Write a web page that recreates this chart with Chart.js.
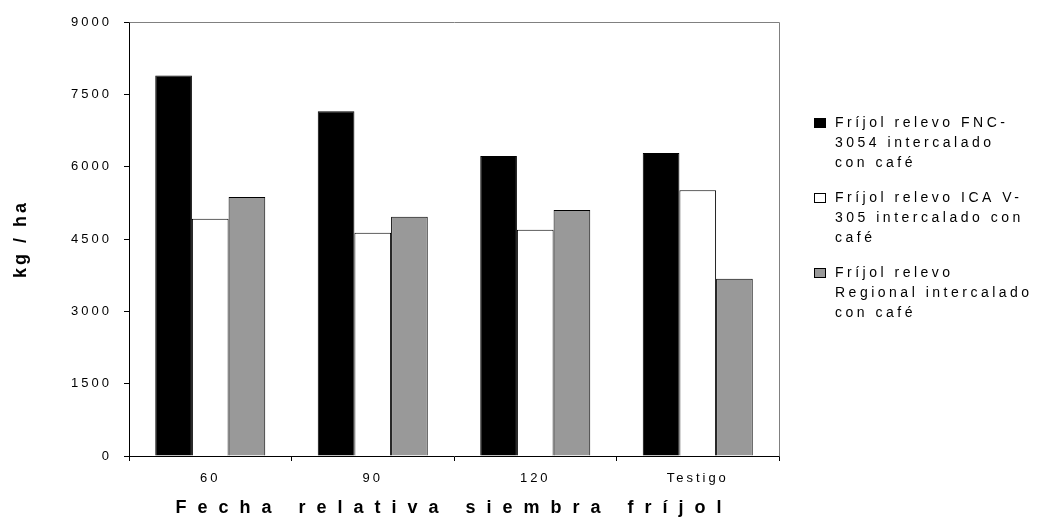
<!DOCTYPE html>
<html><head><meta charset="utf-8">
<script src="https://cdn.jsdelivr.net/npm/chart.js@4"></script>
<style>html,body{margin:0;padding:0;background:#fff;overflow:hidden}#wrap{width:1039px;height:521px}</style>
</head><body><div id="wrap"><canvas id="c" width="1039" height="521"></canvas></div>
<script>
// ---- data ----
const categories = ['60', '90', '120', 'Testigo'];
const seriesFNC = [7890, 7150, 6220, 6285];
const seriesICA = [4920, 4630, 4690, 5510];
const seriesRegional = [5370, 4960, 5100, 3675];
const yTickValues = [0, 1500, 3000, 4500, 6000, 7500, 9000];
const yTickLabels = ['0', '1500', '3000', '4500', '6000', '7500', '9000'];
const legendFNC = ['Fríjol relevo FNC-', '3054 intercalado', 'con café'];
const legendICA = ['Fríjol relevo ICA V-', '305 intercalado con', 'café'];
const legendRegional = ['Fríjol relevo', 'Regional intercalado', 'con café'];
const yTitle = 'kg / ha';
const xTitle = 'Fecha relativa siembra fríjol';

const FONT = '"Liberation Sans", Arial, sans-serif';

const spacingPlugin = {
  id: 'spacing',
  beforeDraw(chart) {
    chart.ctx.letterSpacing = '3px';
    Object.values(chart.scales).forEach(s => {
      if (s._wrapped) return;
      s._wrapped = true;
      const orig = s.drawTitle;
      s.drawTitle = function () {
        const ctx = this.ctx;
        ctx.save();
        ctx.letterSpacing = this.axis === 'x' ? '11px' : '3px';
        orig.call(this);
        ctx.restore();
      };
    });
  }
};

const framePlugin = {
  id: 'frame',
  afterDatasetsDraw(chart) {
    const {ctx, chartArea: a} = chart;
    ctx.save();
    ctx.strokeStyle = '#808080';
    ctx.lineWidth = 1;
    ctx.beginPath();
    ctx.moveTo(Math.round(a.left) + 0.5, Math.round(a.top) + 0.5);
    ctx.lineTo(Math.round(a.right) + 0.5, Math.round(a.top) + 0.5);
    ctx.lineTo(Math.round(a.right) + 0.5, Math.round(a.bottom) + 0.5);
    ctx.stroke();
    ctx.restore();
  }
};

const LEG = {x: 814, textX: 835, top: 123, itemGap: 75, lineGap: 20};
const legendPlugin = {
  id: 'sideLegend',
  afterDraw(chart) {
    const ctx = chart.ctx;
    ctx.save();
    ctx.font = '14px ' + FONT;
    ctx.letterSpacing = '3.5px';
    ctx.textBaseline = 'middle';
    ctx.textAlign = 'left';
    chart.data.datasets.forEach((ds, i) => {
      const y0 = LEG.top + i * LEG.itemGap;
      ctx.fillStyle = ds.backgroundColor;
      ctx.fillRect(LEG.x, y0 - 5, 12, 10);
      ctx.strokeStyle = '#000';
      ctx.lineWidth = 1;
      ctx.strokeRect(LEG.x + 0.5, y0 - 4.5, 11, 9);
      ctx.fillStyle = '#000';
      ds.label.forEach((line, j) => ctx.fillText(line, LEG.textX, y0 + j * LEG.lineGap));
    });
    ctx.restore();
  }
};

new Chart(document.getElementById('c'), {
  type: 'bar',
  data: {
    labels: categories,
    datasets: [
      {label: legendFNC, data: seriesFNC, backgroundColor: '#000000', borderColor: '#000000', borderWidth: 1},
      {label: legendICA, data: seriesICA, backgroundColor: '#ffffff', borderColor: '#000000', borderWidth: 1},
      {label: legendRegional, data: seriesRegional, backgroundColor: '#999999', borderColor: '#000000', borderWidth: 1}
    ]
  },
  options: {
    responsive: false,
    animation: false,
    devicePixelRatio: 1,
    layout: {padding: {left: 0, top: 22, right: 260, bottom: 0}},
    datasets: {bar: {barPercentage: 1, categoryPercentage: 0.677}},
    plugins: {legend: {display: false}, tooltip: {enabled: false}},
    scales: {
      x: {
        grid: {offset: true, drawOnChartArea: false, tickLength: 5, color: '#000'},
        border: {color: '#000', width: 1},
        ticks: {color: '#000', font: {family: FONT, size: 13}, padding: 10, maxRotation: 0},
        title: {display: true, text: xTitle, color: '#000', font: {family: FONT, size: 18, weight: 'bold'}, padding: {top: 0, bottom: 2}},
        afterFit(s) { s.height = 65; }
      },
      y: {
        min: 0, max: 9000,
        afterBuildTicks(s) { s.ticks = yTickValues.map(v => ({value: v})); },
        grid: {drawOnChartArea: false, tickLength: 5, color: '#000'},
        border: {color: '#000', width: 1},
        ticks: {
          color: '#000', font: {family: FONT, size: 13}, padding: 12,
          callback: (v) => yTickLabels[yTickValues.indexOf(v)]
        },
        title: {display: true, text: yTitle, color: '#000', font: {family: FONT, size: 18, weight: 'bold'}, padding: {top: 10, bottom: 0}},
        afterFit(s) { s.width = 129; }
      }
    }
  },
  plugins: [spacingPlugin, framePlugin, legendPlugin]
});
</script>
</body></html>
